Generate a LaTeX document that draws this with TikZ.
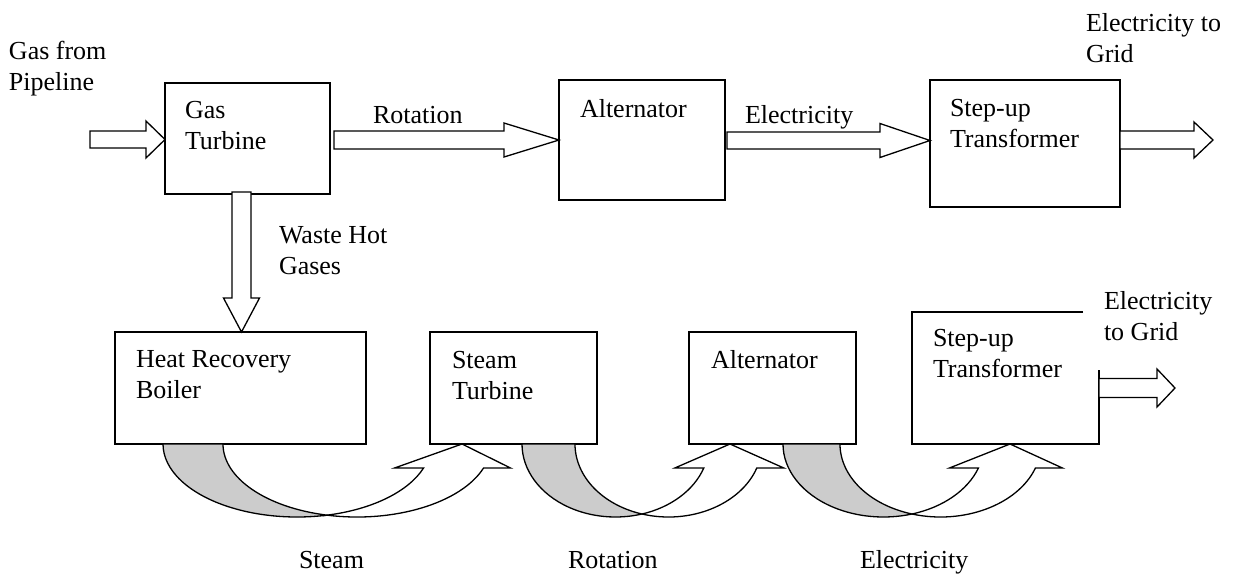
\documentclass[tikz,border=0pt]{standalone}
\usepackage{fontspec}
\setmainfont{Liberation Serif}
\usetikzlibrary{calc}

% straight block arrow pointing right: tail, tip, half shaft, half head, head length
\newcommand\rightblock[5]{%
  \draw[flow] ($(#1)+(0,-#3)$) -- ($(#2)+(-#5,-#3)$) -- ($(#2)+(-#5,-#4)$) -- (#2)
    -- ($(#2)+(-#5,#4)$) -- ($(#2)+(-#5,#3)$) -- ($(#1)+(0,#3)$) -- cycle;}
% straight block arrow pointing down
\newcommand\downblock[5]{%
  \draw[flow] ($(#1)+(-#3,0)$) -- ($(#2)+(-#3,-#5)$) -- ($(#2)+(-#4,-#5)$) -- (#2)
    -- ($(#2)+(#4,-#5)$) -- ($(#2)+(#3,-#5)$) -- ($(#1)+(#3,0)$) -- cycle;}
% curved U-turn ribbon arrow under the lower row:
% #1 left x of ribbon, #2 ribbon width, #3 crossing x, #4 tip x, #5 box bottom y
\newcommand\curvedflow[5]{%
  \pgfmathsetmacro\cfcx{#3-#2/2}%
  \pgfmathsetmacro\cfrx{\cfcx-#1}%
  \pgfmathsetmacro\cfphi{acos((#2/2)/\cfrx)}%
  \pgfmathsetmacro\cfeps{asin(24/73)}%
  \pgfmathsetmacro\cfycr{#5+73*sin(\cfphi)}%
  \pgfmathsetmacro\cfxin{\cfcx+\cfrx*cos(\cfeps)}%
  \pgfmathsetmacro\cfxout{\cfxin+#2}%
  \draw[flow, fill=black!20] (#1,#5)
    arc[start angle=180, end angle=360-\cfphi, x radius=\cfrx pt, y radius=73pt]
    arc[start angle=180+\cfphi, end angle=180, x radius=\cfrx pt, y radius=73pt] -- cycle;
  \draw[flow] (#3,\cfycr)
    arc[start angle=180+\cfphi, end angle=360-\cfeps, x radius=\cfrx pt, y radius=73pt]
    -- (\cfxout+27,#5+24) -- (#4,#5) -- (\cfxin-29,#5+24) -- (\cfxin,#5+24)
    arc[start angle=360-\cfeps, end angle=360-\cfphi, x radius=\cfrx pt, y radius=73pt] -- cycle;}

\tikzset{
  box/.style={draw, line width=1.3pt, rectangle, inner sep=0pt, outer sep=0pt, anchor=north west},
  openbox/.style={rectangle, inner sep=0pt, outer sep=0pt, anchor=north west},
  flow/.style={draw, line width=1.3pt, fill=white, line join=miter},
  edge/.style={line width=1.3pt},
  % placed at the baseline of the last line of the text
  lbl/.style={anchor=base west, inner sep=0pt, outer sep=0pt, align=left,
    font=\fontsize{26}{31}\selectfont},
}

\begin{document}
\begin{tikzpicture}[x=1pt, y=-1pt]
\useasboundingbox (0,0) rectangle (1234,574);

% ---- upper row: gas turbine cycle ----
\node[box, minimum width=165pt, minimum height=111pt] (gt) at (165,83) {};
\node[box, minimum width=166pt, minimum height=120pt] (alt1) at (559,80) {};
\node[box, minimum width=190pt, minimum height=127pt] (su1) at (930,80) {};

\node[lbl] (gtText) at (185,149) {Gas\\Turbine};
\node[lbl] (alt1Text) at (580,117) {Alternator};
\node[lbl] (su1Text) at (950,147) {Step-up\\Transformer};
\node[lbl] (gasIn) at (9,90) {Gas from\\Pipeline};
\node[lbl] (rotTop) at (373,123) {Rotation};
\node[lbl] (eleTop) at (745,123) {Electricity};
\node[lbl] (gridTop) at (1086,62) {Electricity to\\Grid};
\node[lbl] (waste) at (279,274) {Waste Hot\\Gases};

\coordinate (inTail) at (90,139.5);
\coordinate (inTip) at (inTail -| gt.west);
\coordinate (rotTail) at ($(gt.east)+(4,1.5)$);
\coordinate (rotTip) at (rotTail -| alt1.west);
\coordinate (eleTail) at ($(alt1.east)+(2,0.5)$);
\coordinate (eleTip) at (eleTail -| su1.west);
\coordinate (outTail) at ($(su1.east)+(0,-3.5)$);
\coordinate (outTip) at ($(outTail)+(93,0)$);

\rightblock{inTail}{inTip}{8.5}{18.5}{19}
\rightblock{rotTail}{rotTip}{9}{17}{55}
\rightblock{eleTail}{eleTip}{8.5}{17}{50}
\rightblock{outTail}{outTip}{9}{18}{19}

% ---- lower row: steam cycle ----
\node[box, minimum width=251pt, minimum height=112pt] (hrb) at (115,332) {};
\node[box, minimum width=167pt, minimum height=112pt] (st) at (430,332) {};
\node[box, minimum width=167pt, minimum height=112pt] (alt2) at (689,332) {};
\node[openbox, minimum width=187pt, minimum height=132pt] (su2) at (912,312) {};
\draw[edge] ($(su2.north east)+(-16,0)$) -- (su2.north west) -- (su2.south west)
  -- (su2.south east) -- ($(su2.north east)+(0,58)$);

\node[lbl] (hrbText) at (136,398) {Heat Recovery\\Boiler};
\node[lbl] (stText) at (452,399) {Steam\\Turbine};
\node[lbl] (alt2Text) at (711,368) {Alternator};
\node[lbl] (su2Text) at (933,377) {Step-up\\Transformer};
\node[lbl] (gridBot) at (1104,340) {Electricity\\to Grid};

\coordinate (wasteTail) at ($(gt.south)+(-6,-2)$);
\coordinate (wasteTip) at (wasteTail |- hrb.north);
\downblock{wasteTail}{wasteTip}{9.5}{18}{34}

\coordinate (out2Tail) at ($(su2.east)+(0,10)$);
\coordinate (out2Tip) at ($(out2Tail)+(76,0)$);
\rightblock{out2Tail}{out2Tip}{9.5}{19}{18}

% curved transfer arrows between the lower boxes
\curvedflow{163}{60}{327}{462}{444}
\curvedflow{522}{53}{642}{730}{444}
\curvedflow{783}{57}{912}{1010}{444}

\node[lbl] (steamLbl) at (299,568) {Steam};
\node[lbl] (rotLbl) at (568,568) {Rotation};
\node[lbl] (eleLbl) at (860,568) {Electricity};
\end{tikzpicture}
\end{document}
